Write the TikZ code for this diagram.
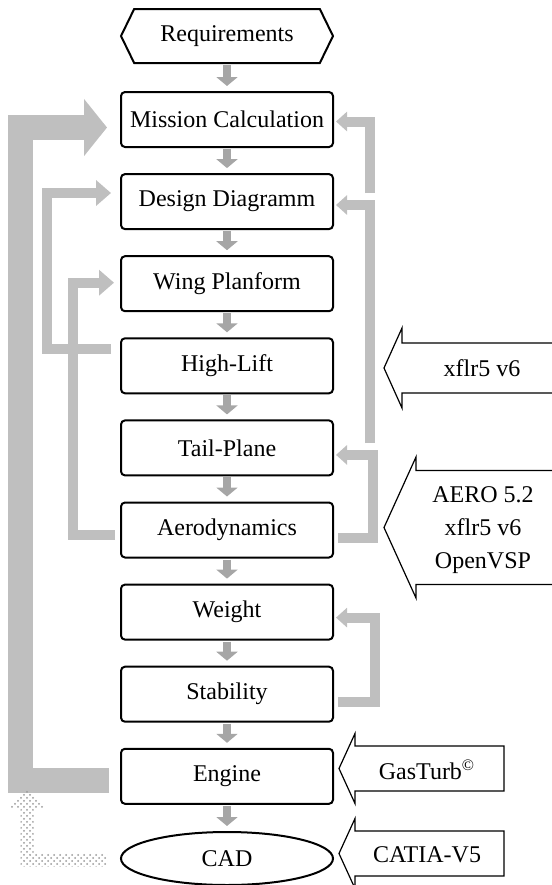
\documentclass[tikz,border=0pt]{standalone}
\usepackage{fontspec}
\setmainfont{Liberation Serif}
\usetikzlibrary{arrows.meta,shapes.geometric,shapes.symbols,patterns}

\definecolor{flowgray}{RGB}{191,191,191}
\definecolor{stepgray}{RGB}{166,166,166}

\begin{document}
\begin{tikzpicture}[x=0.5pt, y=-0.5pt,
  every node/.style={font=\fontsize{12}{16.5}\selectfont, inner sep=0pt},
  stepbox/.style={draw, line width=1pt, rounded corners=2pt, minimum width=106pt, minimum height=27.5pt},
  reqbox/.style={draw, line width=1pt, signal, signal to=west and east, signal pointer angle=128, minimum width=106pt, minimum height=27pt},
  cadbox/.style={draw, line width=1pt, ellipse, minimum width=106pt, minimum height=26.5pt},
  stepflow/.style={draw=stepgray, line width=4pt, -{Triangle[width=10.5pt,length=4.5pt]}, shorten <=0.5pt, shorten >=2.5pt},
  bigflow/.style={draw=flowgray, line width=12.5pt, line join=miter, -{Triangle[width=28pt,length=11.5pt]}},
  leftflow/.style={draw=flowgray, line width=5pt, line join=miter, -{Triangle[width=12.5pt,length=7.5pt]}},
  rightflow/.style={draw=flowgray, line width=5pt, line join=miter, -{Triangle[width=9.5pt,length=5.5pt]}, shorten >=1pt},
  toolline/.style={draw, line width=0.6pt}]

% Picture frame
\clip (0,0) rectangle (552,885);

% Define a variable for spacing
\def\vspacing{82.1}

% Main chain
\node[reqbox] (req) at (227,36) {Requirements};

\foreach \name/\txt [count=\i] in {mission/Mission Calculation, design/Design Diagramm, wing/Wing Planform, highlift/High-Lift, tail/Tail-Plane, aero/Aerodynamics, weight/Weight, stab/Stability, engine/Engine} {
    \node[stepbox] (\name) at (227, {119.5 + \vspacing*(\i-1)}) {\txt};
}

\node[cadbox] (cad) at (227,858.5) {CAD};

% Steps down the chain
\foreach \a/\b in {req/mission, mission/design, design/wing, wing/highlift, highlift/tail, tail/aero, aero/weight, weight/stab, stab/engine, engine/cad} {
    \draw[stepflow] (\a.south) -- (\b.north);
}

% Feedback on the left
\draw[bigflow, shorten <=5.5pt, shorten >=6.5pt] ([yshift=-2pt]engine.west) -- ++(-100,0) |- ([yshift=-4pt]mission.west);
\draw[leftflow, shorten <=4.5pt, shorten >=4.5pt] ([yshift=8.5pt]highlift.west) -- ++(-73,0) |- ([yshift=4.3pt]design.west);
\draw[leftflow, shorten <=2.5pt, shorten >=3pt] ([yshift=-2.5pt]aero.west) -- ++(-47,0) |- ([yshift=0.5pt]wing.west);

% Feedback on the right
\coordinate (mfoot) at (369.5,193);
\coordinate (dfoot) at (369.5,443);
\draw[rightflow] (mfoot) |- ([yshift=-1pt]mission.east);
\draw[rightflow] (dfoot) |- ([yshift=-1.7pt]design.east);
\draw[rightflow, shorten <=2pt] ([yshift=-3.75pt]aero.east) -- ++(38.5,0) |- ([yshift=-3.5pt]tail.east);
\draw[rightflow, shorten <=2pt] ([yshift=-3.65pt]stab.east) -- ++(41,0) |- ([yshift=-2.75pt]weight.east);

% Hatched return from CAD
\coordinate (cadfb) at ([xshift=-6.5pt,yshift=-0.75pt]cad.west);
\fill[pattern=crosshatch dots, pattern color=gray!80] (cadfb) ++(0,-6.5) -- ++(-73.5,0) -- ++(0,-45.5) -- ++(12.5,0) -- ++(-19,-18) -- ++(-19,18) -- ++(12.5,0) -- ++(0,58.5) -- ++(86.5,0) -- cycle;

% Tools
\foreach \tipx/\basex/\cy/\rh/\hh/\rx in {384/402/368/25/40/560, 384/416/527.5/57/70.5/560, 339/355/768.5/22.5/35/504, 339/355/853.5/22.5/35/504} {
    \draw[toolline] (\tipx,\cy) -- (\basex,\cy-\hh) -- (\basex,\cy-\rh) -- (\rx,\cy-\rh) -- (\rx,\cy+\rh) -- (\basex,\cy+\rh) -- (\basex,\cy+\hh) -- cycle;
}

\node (xflr) at (482,368) {xflr5 v6};
\node[align=center] (aerotools) at (483,530) {AERO 5.2\\xflr5 v6\\OpenVSP};
\node (gasturb) at (427,770) {GasTurb\textsuperscript{©}};
\node (catia) at (427,855) {CATIA-V5};

\end{tikzpicture}
\end{document}
